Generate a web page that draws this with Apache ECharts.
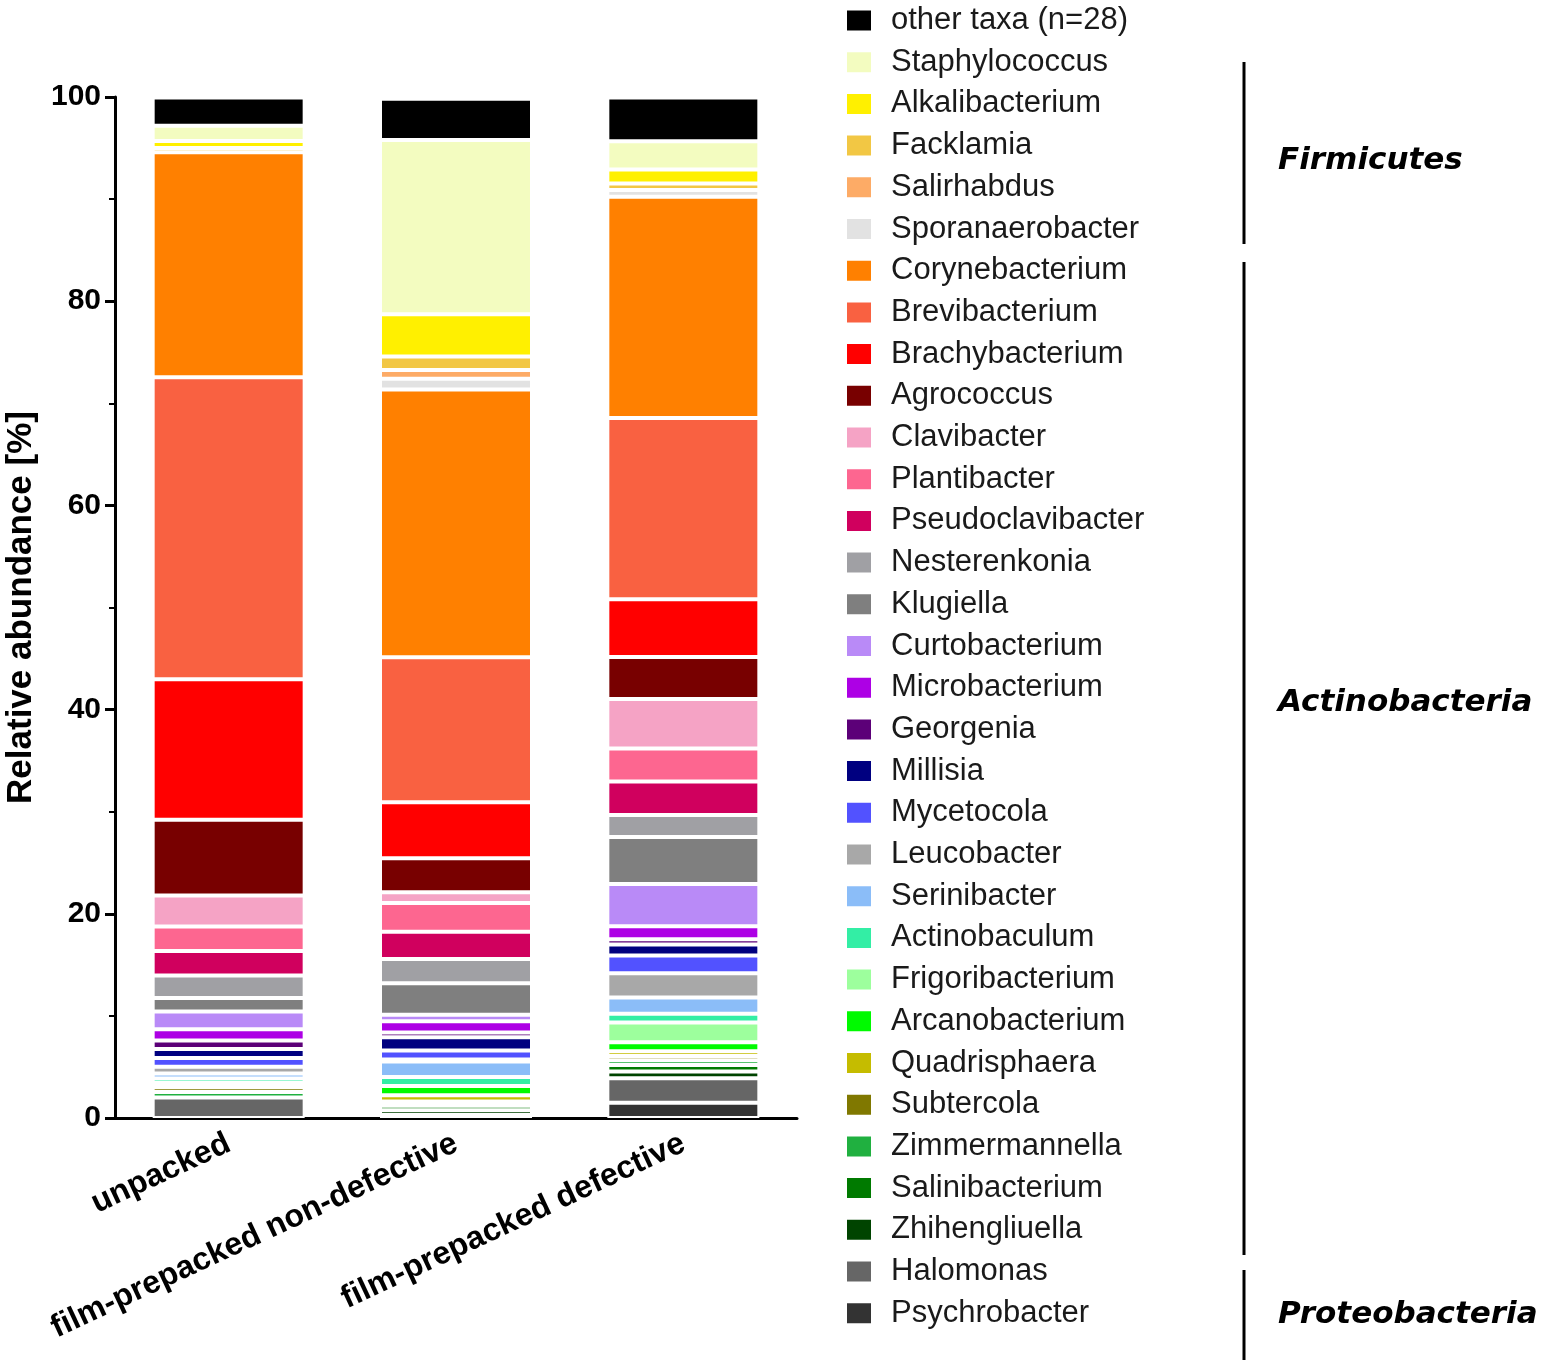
<!DOCTYPE html>
<html><head><meta charset="utf-8">
<script src="https://cdn.jsdelivr.net/npm/echarts@6/dist/echarts.min.js"></script>
<style>html,body{margin:0;padding:0;background:#fff}#c{width:1547px;height:1360px}</style>
</head><body><div id="c"></div>
<script>
// categories
const samples = ['unpacked', 'film-prepacked non-defective', 'film-prepacked defective'];
// taxa in legend order (top to bottom)
const taxa = ['other taxa (n=28)', 'Staphylococcus', 'Alkalibacterium', 'Facklamia', 'Salirhabdus', 'Sporanaerobacter',
  'Corynebacterium', 'Brevibacterium', 'Brachybacterium', 'Agrococcus', 'Clavibacter', 'Plantibacter',
  'Pseudoclavibacter', 'Nesterenkonia', 'Klugiella', 'Curtobacterium', 'Microbacterium', 'Georgenia',
  'Millisia', 'Mycetocola', 'Leucobacter', 'Serinibacter', 'Actinobaculum', 'Frigoribacterium',
  'Arcanobacterium', 'Quadrisphaera', 'Subtercola', 'Zimmermannella', 'Salinibacterium', 'Zhihengliuella',
  'Halomonas', 'Psychrobacter'];
// relative abundance [%] per sample, same order as taxa
const unpacked = [2.76, 1.49, 0.69, 0.42, 0, 0, 22.04, 29.58, 13.76, 7.42, 3.03, 2.41, 2.4, 2.2, 1.32, 1.73,
  1.1, 0.83, 0.9, 0.86, 0.64, 0.49, 0.46, 0.14, 0.14, 0.14, 0.45, 0.55, 0, 0, 2.0, 0];
const nonDefective = [4.05, 17.07, 4.14, 1.31, 0.86, 1.06, 26.22, 14.2, 5.48, 3.33, 1.05, 2.84, 2.65, 2.37, 3.09, 0.64,
  1.11, 0.46, 1.29, 0.88, 0.2, 1.53, 0.88, 0, 0.9, 0.62, 0.2, 0.2, 0.45, 0.46, 0.3, 0];
const defective = [4.3, 2.77, 1.35, 0.66, 0, 0.66, 21.67, 17.73, 5.68, 4.11, 4.85, 3.23, 3.28, 2.15, 4.6, 4.14,
  1.27, 0.51, 1.08, 1.74, 2.39, 1.57, 0.86, 1.94, 0.88, 0.46, 0.42, 0.46, 0.64, 0.67, 2.39, 1.5];
const colors = ['#000000', '#f3fcc0', '#fff000', '#f2c744', '#fdab66', '#e2e2e2', '#ff8000', '#f96141', '#ff0000',
  '#780000', '#f5a3c5', '#fd6690', '#d0005e', '#a0a0a4', '#7f7f7f', '#b98af7', '#ad00e5', '#5c0078', '#000080',
  '#5252ff', '#a8a8a8', '#8bbdf8', '#33eea5', '#9dff9d', '#00fa00', '#c5bc00', '#807800', '#20b040', '#007a00',
  '#004400', '#666666', '#333333'];
const yTickValues = [0, 20, 40, 60, 80, 100];
const phyla = [
  {name: 'Firmicutes', y0: 62, y1: 244, ty: 158},
  {name: 'Actinobacteria', y0: 262, y1: 1255, ty: 700},
  {name: 'Proteobacteria', y0: 1270, y1: 1362, ty: 1312}
];

const series = [];
for (let i = taxa.length - 1; i >= 0; i--) {
  series.push({
    name: taxa[i], type: 'bar', stack: 'total', barWidth: 152,
    data: [unpacked[i], nonDefective[i], defective[i]].map(v => v === 0 ? null : v),
    itemStyle: {color: colors[i], borderColor: '#ffffff', borderWidth: 2}
  });
}

const graphic = [];
phyla.forEach(p => {
  graphic.push({type: 'line', shape: {x1: 1244, y1: p.y0, x2: 1244, y2: p.y1}, style: {stroke: '#000', lineWidth: 3}});
  graphic.push({type: 'text', left: 1278, top: p.ty - 13, style: {text: p.name, fill: '#000',
    font: 'italic bold 31px "DejaVu Sans"', textVerticalAlign: 'top'}});
});

const chart = echarts.init(document.getElementById('c'), null, {renderer: 'canvas'});
chart.setOption({
  animation: false,
  backgroundColor: '#ffffff',
  grid: {left: 115, top: 97, width: 682, height: 1021, containLabel: false},
  legend: {
    orient: 'vertical', left: 845, top: 5, height: 1355, padding: 0, data: taxa, icon: 'rect',
    itemWidth: 26, itemHeight: 22, itemGap: 10.7, selectedMode: false,
    textStyle: {fontFamily: 'Liberation Sans', fontSize: 31, color: '#1a1a1a', lineHeight: 31, padding: [0, 0, 0, 14]}
  },
  xAxis: {
    type: 'category', data: samples, boundaryGap: true,
    axisLine: {lineStyle: {color: '#000', width: 3}},
    axisTick: {alignWithLabel: true, length: 10, lineStyle: {color: '#000', width: 3}},
    axisLabel: {rotate: 25, margin: 24, fontFamily: 'Liberation Sans', fontWeight: 'bold', fontSize: 32, color: '#000', interval: 0}
  },
  yAxis: {
    type: 'value', min: 0, max: 100, interval: 20,
    name: 'Relative abundance [%]', nameLocation: 'middle', nameGap: 76,
    nameTextStyle: {fontFamily: 'Liberation Sans', fontWeight: 'bold', fontSize: 35, color: '#000'},
    axisLine: {show: true, lineStyle: {color: '#000', width: 3}},
    axisTick: {show: true, length: 10, lineStyle: {color: '#000', width: 3}},
    minorTick: {show: true, splitNumber: 2, length: 6, lineStyle: {color: '#000', width: 2}},
    splitLine: {show: false},
    axisLabel: {margin: 14, fontFamily: 'Liberation Sans', fontWeight: 'bold', fontSize: 30, color: '#000',
      formatter: v => yTickValues.indexOf(v) >= 0 ? String(v) : ''}
  },
  graphic: graphic,
  series: series
});
</script></body></html>
